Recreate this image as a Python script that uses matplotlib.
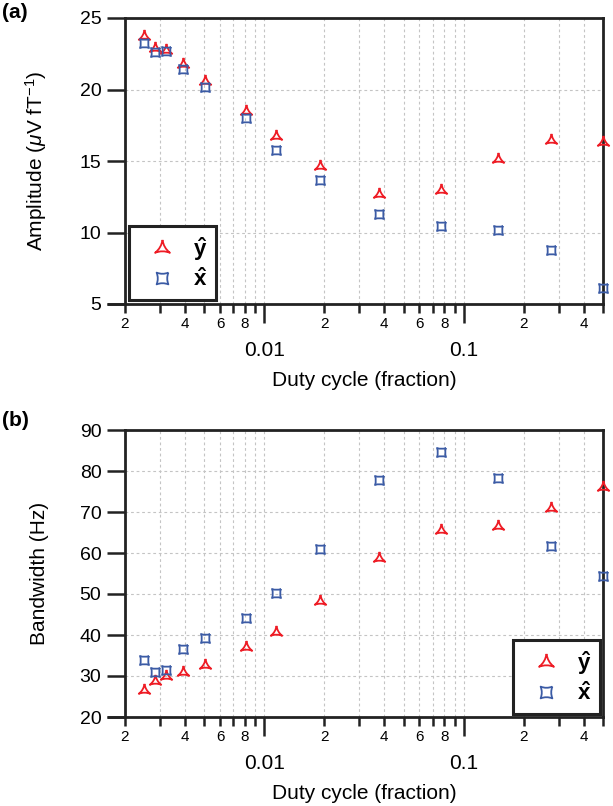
import matplotlib
matplotlib.use('Agg')
from matplotlib import pyplot as plt
from matplotlib.path import Path
from matplotlib.ticker import FixedLocator, FuncFormatter

# Data
duty = [0.00248, 0.00282, 0.00320, 0.00389, 0.00506, 0.00809, 0.0114,
        0.0190, 0.0376, 0.0767, 0.148, 0.274, 0.500]
amp_y = [23.75, 22.87, 22.75, 21.76, 20.58, 18.47, 16.74, 14.63, 12.7,
         12.94, 15.17, 16.5, 16.34]
amp_x = [23.26, 22.63, 22.7, 21.46, 20.16, 18.0, 15.8, 13.64, 11.3,
         10.44, 10.2, 8.8, 6.1]
bw_y = [26.5, 28.9, 29.9, 31.0, 32.6, 37.0, 40.8, 48.3, 58.7, 65.6,
        66.7, 70.9, 76.1]
bw_x = [33.8, 30.9, 31.5, 36.5, 39.3, 44.1, 50.3, 61.0, 77.9, 84.7,
        78.3, 61.8, 54.3]

minor_ticks = [m * 10.0**e for e in (-3, -2, -1) for m in range(2, 10)]
minor_labels = {2: '2', 4: '4', 6: '6', 8: '8'}

RED = '#ee1c25'
BLUE = '#3b5ba5'
DARK = '#222222'

plt.rcParams['font.family'] = ['Liberation Sans', 'DejaVu Sans']
plt.rcParams['mathtext.fontset'] = 'custom'
plt.rcParams['mathtext.rm'] = 'Liberation Sans'
plt.rcParams['mathtext.it'] = 'Liberation Sans:italic'
plt.rcParams['mathtext.bf'] = 'Liberation Sans:bold'


# concave three-point star (red) and concave four-point star (blue)
def tri_marker():
    pts = [(0, 1), (-0.866, -0.5), (0.866, -0.5)]
    verts, codes = [pts[0]], [Path.MOVETO]
    for i in range(3):
        a, b = pts[i], pts[(i + 1) % 3]
        c = ((a[0] + b[0]) * 0.5 * 0.3, (a[1] + b[1]) * 0.5 * 0.3)
        verts += [c, b]
        codes += [Path.CURVE3, Path.CURVE3]
    return Path(verts, codes)


def quad_marker():
    pts = [(1, 1), (-1, 1), (-1, -1), (1, -1)]
    verts, codes = [pts[0]], [Path.MOVETO]
    for i in range(4):
        a, b = pts[i], pts[(i + 1) % 4]
        c = ((a[0] + b[0]) * 0.5 * 0.6, (a[1] + b[1]) * 0.5 * 0.6)
        verts += [c, b]
        codes += [Path.CURVE3, Path.CURVE3]
    return Path(verts, codes)


TRI = tri_marker()
QUAD = quad_marker()


def minor_fmt(v, pos):
    m = int(round(v / 10.0**int(f'{v:e}'.split('e')[1])))
    return minor_labels.get(m, '')


def style_axis(ax):
    ax.set_xscale('log')
    ax.set_xlim(0.002, 0.5)
    ax.xaxis.set_major_locator(FixedLocator([0.01, 0.1]))
    ax.xaxis.set_major_formatter(FuncFormatter(lambda v, p: f'{v:g}'))
    ax.xaxis.set_minor_locator(FixedLocator(minor_ticks))
    ax.xaxis.set_minor_formatter(FuncFormatter(minor_fmt))
    for s in ax.spines.values():
        s.set_linewidth(2.0)
        s.set_color(DARK)
    ax.tick_params(axis='x', which='major', direction='out', length=13.5,
                   width=1.8, color=DARK, labelsize=15, pad=13)
    ax.tick_params(axis='x', which='minor', direction='out', length=6.5,
                   width=1.8, color=DARK, labelsize=11, pad=3)
    ax.tick_params(axis='y', which='major', direction='out', length=13,
                   width=1.8, color=DARK, labelsize=14, pad=4)
    ax.grid(which='major', ls=(0, (2.5, 2.5)), color='#c4c4c4', lw=0.8)
    ax.grid(which='minor', axis='x', ls=(0, (2.5, 2.5)), color='#c4c4c4', lw=0.8)
    ax.set_axisbelow(True)
    # bottom axis line reaching past the left spine
    ax.plot([-0.037, 0], [0, 0], color=DARK, lw=2.0, transform=ax.transAxes,
            clip_on=False, solid_capstyle='butt')
    ax.set_xlabel('Duty cycle (fraction)', fontsize=15, labelpad=8)
    ax.yaxis.set_label_coords(-0.16, 0.5)


def draw(ax, yv, xv):
    ax.plot(duty, yv, ls='none', marker=TRI, ms=9.5, mfc='none', mec=RED,
            mew=1.3, clip_on=False, label=r'$\mathbf{\hat{y}}$', zorder=3)
    ax.plot(duty, xv, ls='none', marker=QUAD, ms=6.5, mfc='none', mec=BLUE,
            mew=1.3, clip_on=False, label=r'$\mathbf{\hat{x}}$', zorder=3)


def legend(ax, loc, anchor):
    leg = ax.legend(loc=loc, bbox_to_anchor=anchor, borderaxespad=0,
                    fontsize=16, markerscale=1.3, handlelength=2.2,
                    handletextpad=0.3, labelspacing=0.25, borderpad=0.4,
                    fancybox=False, framealpha=1)
    leg.get_frame().set_linewidth(2.2)
    leg.get_frame().set_edgecolor(DARK)
    leg.set_zorder(5)


fig = plt.figure(figsize=(6.13, 8.06), dpi=100)
ax1 = fig.add_axes([125 / 613, 1 - 304 / 806, 478 / 613, 286 / 806])
ax2 = fig.add_axes([125 / 613, 1 - 717 / 806, 478 / 613, 287 / 806])

draw(ax1, amp_y, amp_x)
style_axis(ax1)
ax1.set_ylim(5, 25)
ax1.set_yticks([5, 10, 15, 20, 25])
ax1.set_ylabel(r'Amplitude ($\mu$V fT$^{-1}$)', fontsize=15)
legend(ax1, 'lower left', (0.008, 0.014))

draw(ax2, bw_y, bw_x)
style_axis(ax2)
ax2.set_ylim(20, 90)
ax2.set_yticks(range(20, 100, 10))
ax2.set_ylabel('Bandwidth (Hz)', fontsize=15)
legend(ax2, 'lower right', (0.994, 0.01))

fig.text(0.003, 1 - 12 / 806, '(a)', fontsize=15, weight='bold', va='center')
fig.text(0.003, 1 - 420 / 806, '(b)', fontsize=15, weight='bold', va='center')

fig.savefig('out.png', dpi=100)
